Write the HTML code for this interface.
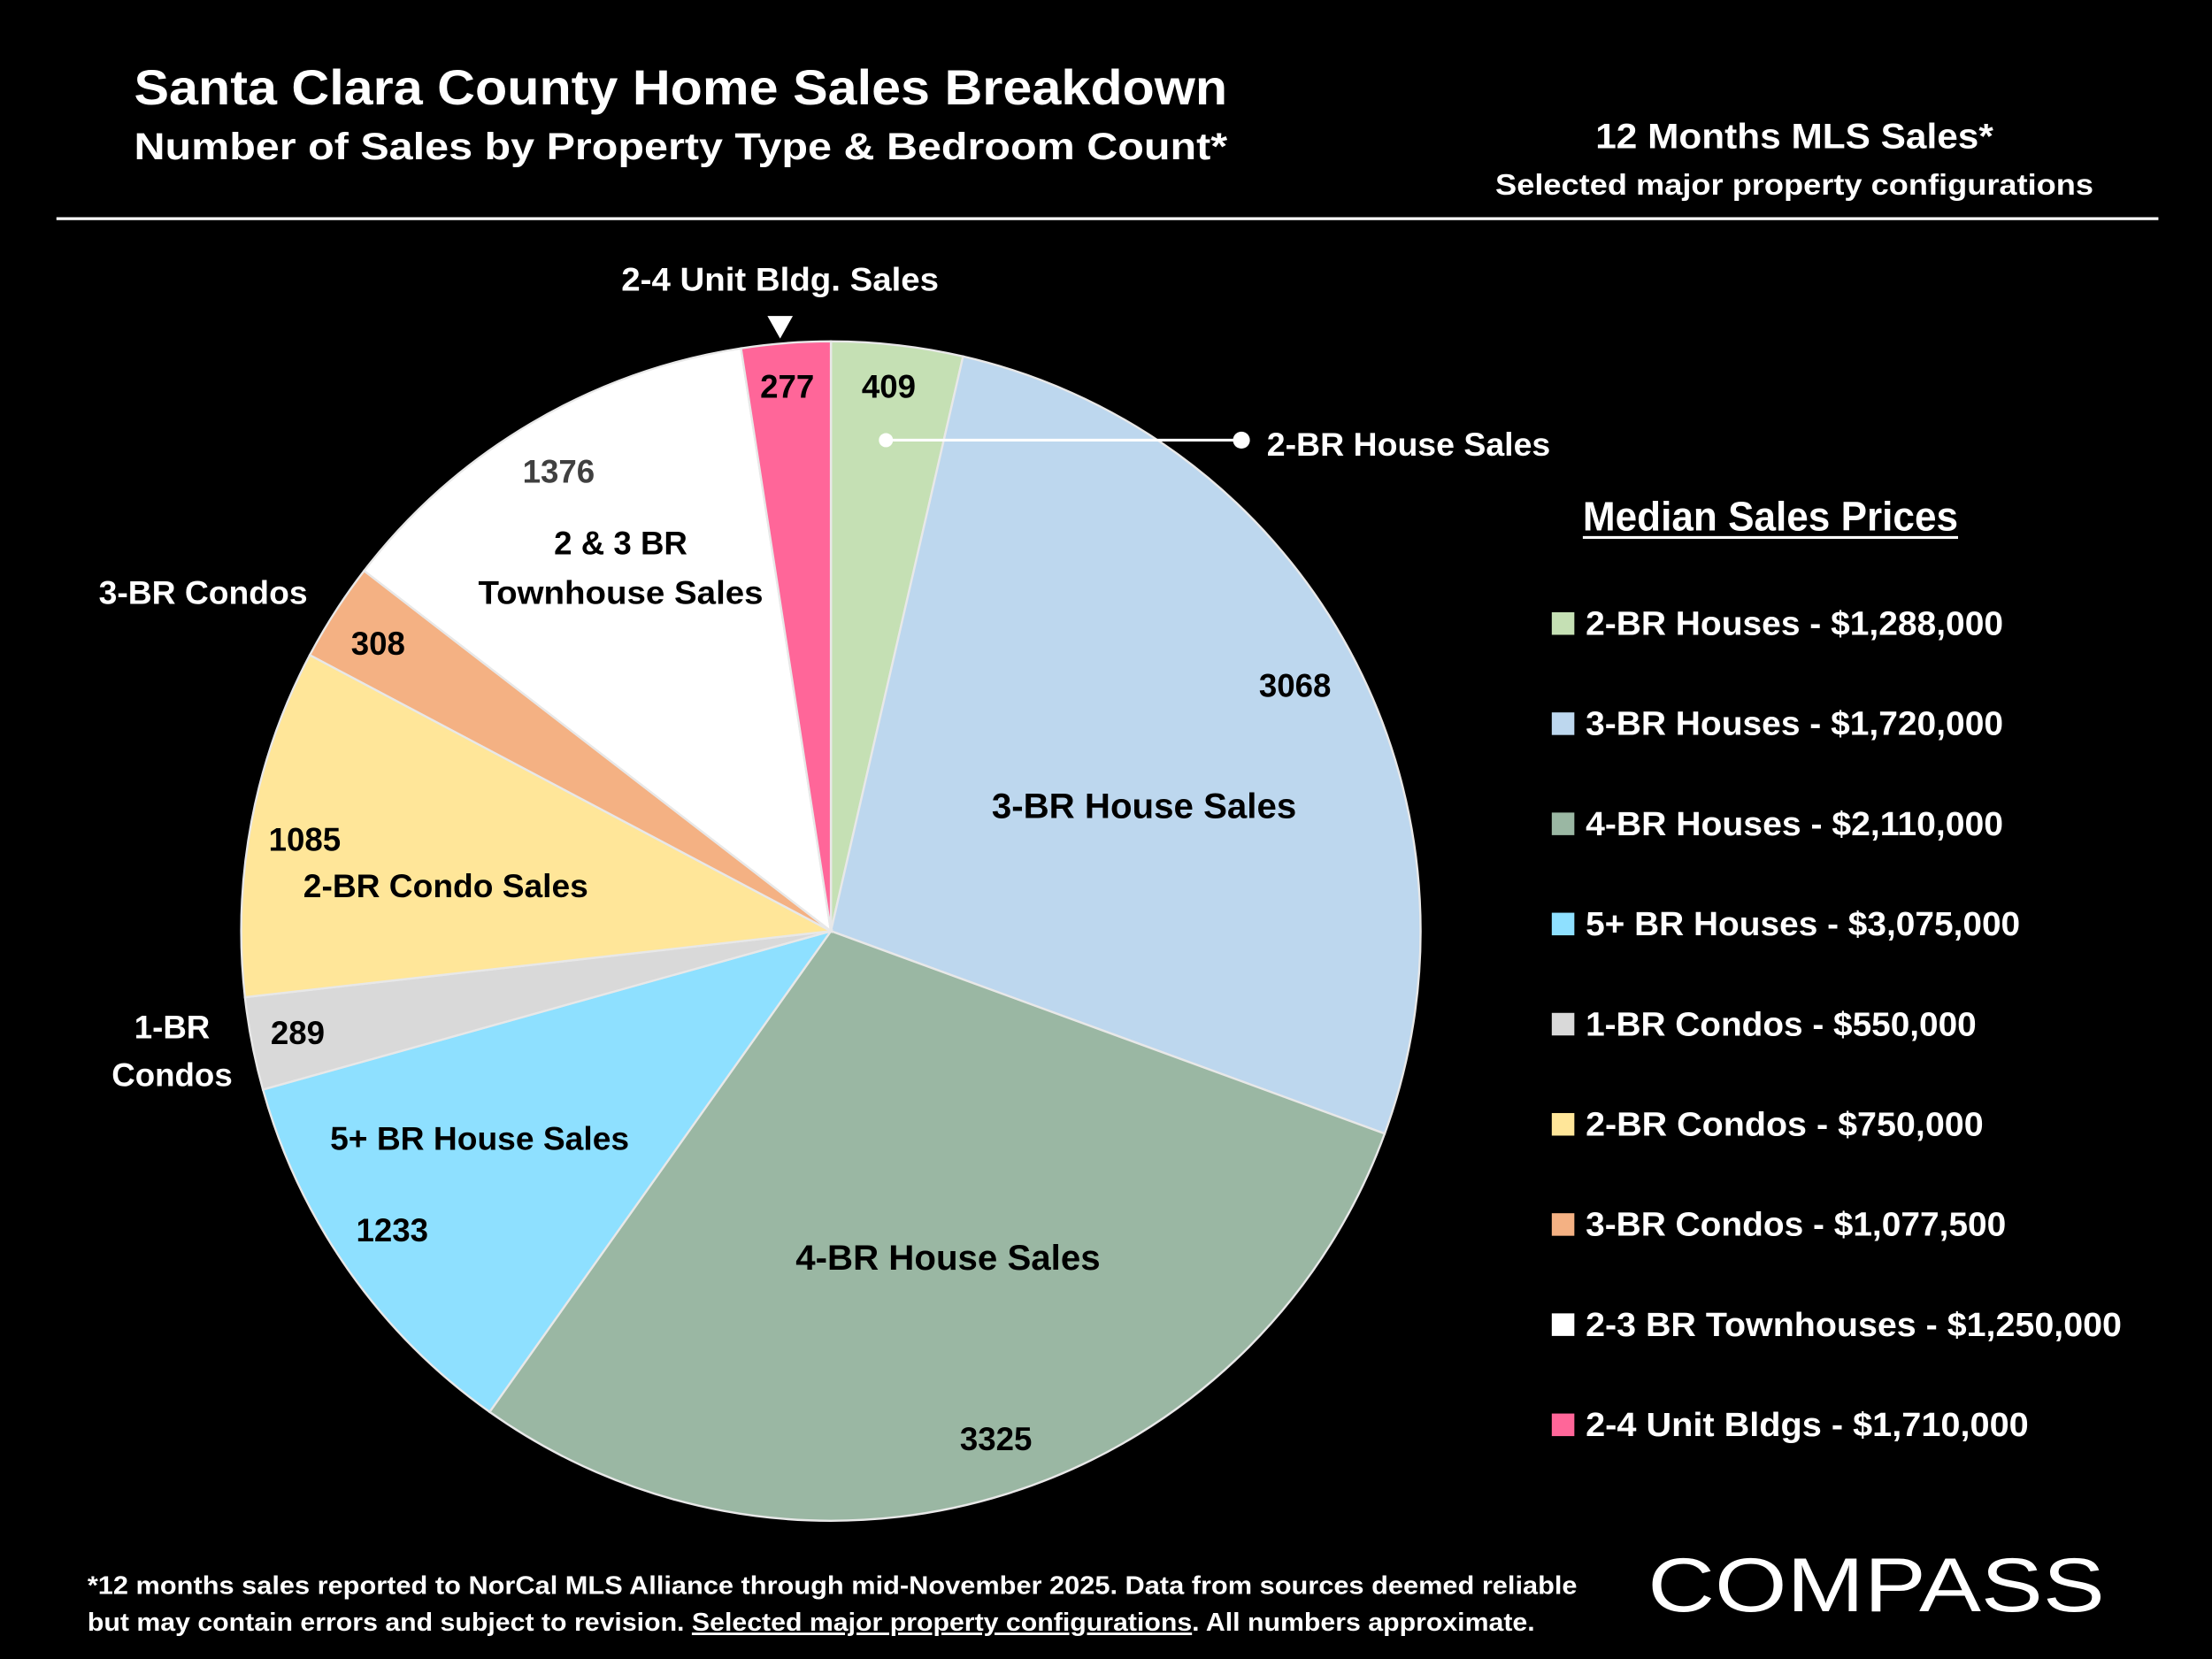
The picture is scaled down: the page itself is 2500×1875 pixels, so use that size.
<!DOCTYPE html>
<html><head><meta charset="utf-8"><style>
html,body{margin:0;padding:0;background:#000;}
svg{display:block;}
text{font-family:"Liberation Sans",sans-serif;font-weight:bold;}
</style></head><body>
<svg id="s" width="2500" height="1875" viewBox="0 0 1568 1176" xmlns="http://www.w3.org/2000/svg">
<rect width="1568" height="1176" fill="#000"/>
<g id="pie"></g>
<text x="95" y="74" font-size="35" fill="#fff" textLength="775" lengthAdjust="spacingAndGlyphs">Santa Clara County Home Sales Breakdown</text>
<text x="95" y="113" font-size="27" fill="#fff" textLength="775" lengthAdjust="spacingAndGlyphs">Number of Sales by Property Type &amp; Bedroom Count*</text>
<text x="1272" y="105" font-size="25" fill="#fff" text-anchor="middle" textLength="282" lengthAdjust="spacingAndGlyphs">12 Months MLS Sales*</text>
<text x="1272" y="138" font-size="21" fill="#fff" text-anchor="middle" textLength="424" lengthAdjust="spacingAndGlyphs">Selected major property configurations</text>
<line x1="40" y1="155" x2="1530" y2="155" stroke="#fff" stroke-width="2"/>

<text x="553" y="206" font-size="23" fill="#fff" text-anchor="middle" textLength="225" lengthAdjust="spacingAndGlyphs">2-4 Unit Bldg. Sales</text>
<polygon points="544,224 562,224 553,240" fill="#fff"/>
<g font-size="23" text-anchor="middle" fill="#000">
<text x="630" y="282">409</text>
<text x="558" y="282">277</text>
<text x="396" y="342" fill="#404040">1376</text>
<text x="440" y="393">2 &amp; 3 BR</text>
<text x="440" y="428" textLength="202" lengthAdjust="spacingAndGlyphs">Townhouse Sales</text>
<text x="268" y="464">308</text>
<text x="918" y="494">3068</text>
<text x="811" y="580" font-size="25" textLength="216" lengthAdjust="spacingAndGlyphs">3-BR House Sales</text>
<text x="216" y="603">1085</text>
<text x="316" y="636" textLength="202" lengthAdjust="spacingAndGlyphs">2-BR Condo Sales</text>
<text x="211" y="740">289</text>
<text x="340" y="815" textLength="212" lengthAdjust="spacingAndGlyphs">5+ BR House Sales</text>
<text x="278" y="880">1233</text>
<text x="672" y="900" font-size="25" textLength="216" lengthAdjust="spacingAndGlyphs">4-BR House Sales</text>
<text x="706" y="1028">3325</text>
</g>
<g font-size="23" fill="#fff" text-anchor="middle">
<text x="144" y="428" textLength="148" lengthAdjust="spacingAndGlyphs">3-BR Condos</text>
<text x="122" y="736">1-BR</text>
<text x="122" y="770">Condos</text>
</g>
<circle cx="628" cy="312" r="5" fill="#fff"/>
<line x1="628" y1="312" x2="880" y2="312" stroke="#fff" stroke-width="2"/>
<circle cx="880" cy="312" r="6" fill="#fff"/>
<text x="898" y="323" font-size="23" fill="#fff" textLength="201" lengthAdjust="spacingAndGlyphs">2-BR House Sales</text>

<text x="1255" y="376" font-size="29" fill="#fff" text-anchor="middle" textLength="266" lengthAdjust="spacingAndGlyphs">Median Sales Prices</text>
<line x1="1122" y1="381" x2="1388" y2="381" stroke="#fff" stroke-width="2"/>
<g font-size="24" fill="#fff">
<rect x="1100" y="434" width="16" height="16" fill="#c5e0b4"/><text x="1124" y="450" textLength="296" lengthAdjust="spacingAndGlyphs">2-BR Houses - $1,288,000</text>
<rect x="1100" y="505" width="16" height="16" fill="#bdd7ee"/><text x="1124" y="521" textLength="296" lengthAdjust="spacingAndGlyphs">3-BR Houses - $1,720,000</text>
<rect x="1100" y="576" width="16" height="16" fill="#9ab7a3"/><text x="1124" y="592" textLength="296" lengthAdjust="spacingAndGlyphs">4-BR Houses - $2,110,000</text>
<rect x="1100" y="647" width="16" height="16" fill="#8ee0ff"/><text x="1124" y="663" textLength="308" lengthAdjust="spacingAndGlyphs">5+ BR Houses - $3,075,000</text>
<rect x="1100" y="718" width="16" height="16" fill="#d9d9d9"/><text x="1124" y="734" textLength="277" lengthAdjust="spacingAndGlyphs">1-BR Condos - $550,000</text>
<rect x="1100" y="789" width="16" height="16" fill="#ffe699"/><text x="1124" y="805" textLength="282" lengthAdjust="spacingAndGlyphs">2-BR Condos - $750,000</text>
<rect x="1100" y="860" width="16" height="16" fill="#f4b183"/><text x="1124" y="876" textLength="298" lengthAdjust="spacingAndGlyphs">3-BR Condos - $1,077,500</text>
<rect x="1100" y="931" width="16" height="16" fill="#ffffff"/><text x="1124" y="947" textLength="380" lengthAdjust="spacingAndGlyphs">2-3 BR Townhouses - $1,250,000</text>
<rect x="1100" y="1002" width="16" height="16" fill="#ff6699"/><text x="1124" y="1018" textLength="314" lengthAdjust="spacingAndGlyphs">2-4 Unit Bldgs - $1,710,000</text>
</g>
<g font-size="18" fill="#fff">
<text x="62" y="1130" textLength="1056" lengthAdjust="spacingAndGlyphs">*12 months sales reported to NorCal MLS Alliance through mid-November 2025. Data from sources deemed reliable</text>
<text x="62" y="1156" textLength="1026" lengthAdjust="spacingAndGlyphs">but may contain errors and subject to revision. <tspan text-decoration="underline">Selected major property configurations</tspan>. All numbers approximate.</text>
</g>
<text x="1168" y="1142" font-size="54" fill="#fff" style="font-weight:normal" textLength="324" lengthAdjust="spacingAndGlyphs">COMPASS</text>
</svg>
<script>
(function(){
var d=[[409,"#c5e0b4"],[3068,"#bdd7ee"],[3325,"#9ab7a3"],[1233,"#8ee0ff"],[289,"#d9d9d9"],[1085,"#ffe699"],[308,"#f4b183"],[1376,"#ffffff"],[277,"#ff6699"]];
var tot=0;d.forEach(function(x){tot+=x[0];});
var cx=589,cy=660,r=418,a=-Math.PI/2,g=document.getElementById("pie"),h="";
d.forEach(function(x){
 var b=a+x[0]/tot*2*Math.PI;
 var x1=cx+r*Math.cos(a),y1=cy+r*Math.sin(a),x2=cx+r*Math.cos(b),y2=cy+r*Math.sin(b);
 var l=(b-a)>Math.PI?1:0;
 h+='<path d="M'+cx+','+cy+' L'+x1+','+y1+' A'+r+','+r+' 0 '+l+' 1 '+x2+','+y2+' Z" fill="'+x[1]+'" stroke="#e8e8e8" stroke-width="1.5"/>';
 a=b;
});
g.innerHTML=h;
})();
</script>
</body></html>
